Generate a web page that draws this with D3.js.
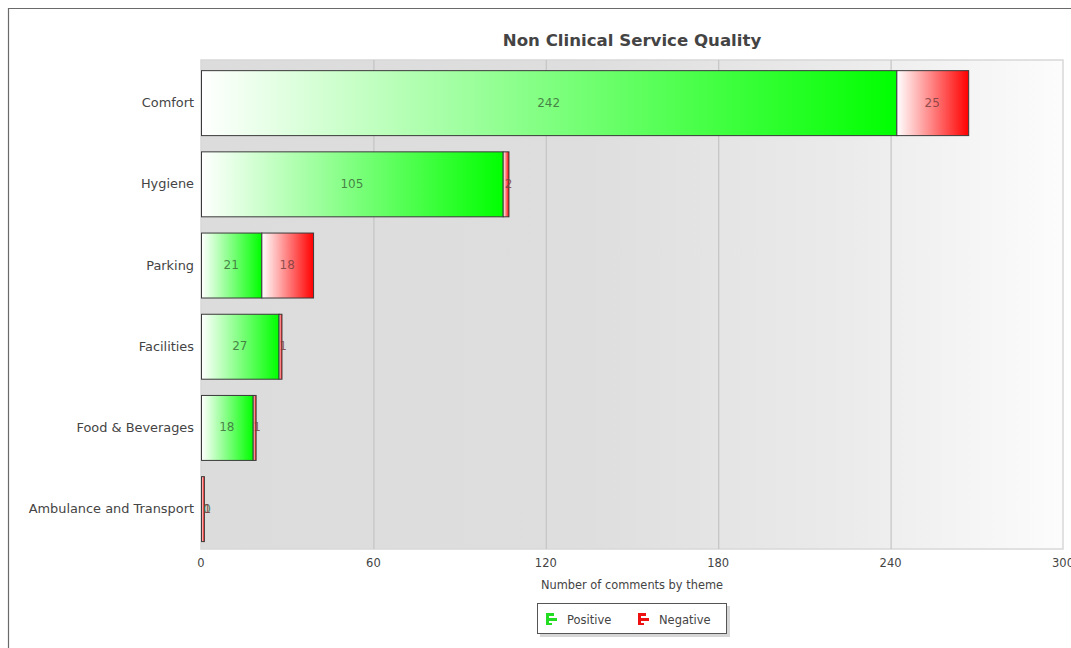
<!DOCTYPE html>
<html><head><meta charset="utf-8">
<script src="https://cdn.jsdelivr.net/npm/d3@7"></script>
<style>body{margin:0;background:#fff}svg{display:block;font-family:"DejaVu Sans",Verdana,sans-serif}</style>
</head><body><svg id="c" width="1071" height="648"></svg>
<script>
const categories = ["Comfort","Hygiene","Parking","Facilities","Food & Beverages","Ambulance and Transport"];
const positive = [242,105,21,27,18,0];
const negative = [25,2,18,1,1,1];
const xTicks = [0,60,120,180,240,300];
const seriesNames = ["Positive","Negative"];
const title = "Non Clinical Service Quality";
const xTitle = "Number of comments by theme";

const svg = d3.select("#c");
const defs = svg.append("defs");
const m = {l:201, r:1063, t:60, b:549};
const x = d3.scaleLinear().domain([0,300]).range([m.l,m.r]);
const y = d3.scaleBand().domain(categories).range([m.t, m.t + 81.2*(6 - 0.2 + 0.25)]).paddingInner(0.2).paddingOuter(0.125);

// outer frame
svg.append("path").attr("d","M8.5,648 L8.5,8.5 L1071,8.5").attr("fill","none").attr("stroke","#6a6a6a").attr("stroke-width",1.2);

// plot background gradient
const bg = defs.append("linearGradient").attr("id","bg").attr("x1","0").attr("x2","1").attr("y1","0").attr("y2","0");
bg.append("stop").attr("offset","0").attr("stop-color","#dcdcdc");
bg.append("stop").attr("offset","0.45").attr("stop-color","#dedede");
bg.append("stop").attr("offset","0.75").attr("stop-color","#ebebeb");
bg.append("stop").attr("offset","1").attr("stop-color","#fcfcfc");
svg.append("rect").attr("x",m.l).attr("y",m.t).attr("width",m.r-m.l).attr("height",m.b-m.t)
  .attr("fill","url(#bg)").attr("stroke","#d8d8d8").attr("stroke-width",1.5);

// grid
svg.append("g").selectAll("line").data(xTicks.slice(1,-1)).join("line")
  .attr("x1",d=>x(d)+0.5).attr("x2",d=>x(d)+0.5).attr("y1",m.t).attr("y2",m.b)
  .attr("stroke","#c4c4c4").attr("stroke-width",1.2);

// gradients
function grad(id,color){
  const g = defs.append("linearGradient").attr("id",id).attr("x1","0").attr("x2","1").attr("y1","0").attr("y2","0");
  g.append("stop").attr("offset","0").attr("stop-color","#ffffff");
  g.append("stop").attr("offset","1").attr("stop-color",color);
}
grad("gp","#00ff00"); grad("gn","#ff0000");

const rows = categories.map((c,i)=>({c, p:positive[i], n:negative[i]}));
const gb = svg.append("g");
rows.forEach(r=>{
  const yy = y(r.c), h = y.bandwidth();
  if(r.p>0){
    gb.append("rect").attr("x",x(0)+0.5).attr("y",yy+0.5).attr("width",x(r.p)-x(0)).attr("height",h)
      .attr("fill","url(#gp)").attr("stroke","#3a3a3a").attr("stroke-width",1);
  }
  gb.append("rect").attr("x",x(r.p)+0.5).attr("y",yy+0.5).attr("width",x(r.p+r.n)-x(r.p)).attr("height",h)
    .attr("fill","url(#gn)").attr("stroke","#3a3a3a").attr("stroke-width",1);
});
// labels
const gl = svg.append("g").attr("font-size",12).attr("text-anchor","middle");
rows.forEach(r=>{
  const cy = y(r.c)+y.bandwidth()/2+4;
  gl.append("text").attr("x",(x(0)+x(r.p))/2 + (r.p===0?6:0)).attr("y",cy).attr("fill","#3c6b3c").attr("fill-opacity",0.85).text(r.p);
  gl.append("text").attr("x",(x(r.p)+x(r.p+r.n))/2 + (r.n<3?3:0) + (r.p===0?2:0)).attr("y",cy).attr("fill","#7a4040").attr("fill-opacity",0.85).text(r.n);
});

// category labels
svg.append("g").attr("font-size",12.9).attr("fill","#444").attr("text-anchor","end")
  .selectAll("text").data(categories).join("text")
  .attr("x",194).attr("y",d=>y(d)+y.bandwidth()/2+4.5).text(d=>d);

// x tick labels
svg.append("g").attr("font-size",11.5).attr("fill","#444").attr("text-anchor","middle")
  .selectAll("text").data(xTicks).join("text")
  .attr("x",d=>x(d)).attr("y",567).text(d=>d);

// title
svg.append("text").attr("x",(m.l+m.r)/2).attr("y",46).attr("text-anchor","middle")
  .attr("font-size",16.6).attr("font-weight","bold").attr("fill","#444").text(title);
svg.append("text").attr("x",(m.l+m.r)/2).attr("y",589).attr("text-anchor","middle")
  .attr("font-size",11.4).attr("fill","#444").text(xTitle);

// legend
const lg = svg.append("g");
lg.append("rect").attr("x",540).attr("y",606).attr("width",190).attr("height",31).attr("fill","#bbb").attr("opacity",0.6);
lg.append("rect").attr("x",537.5).attr("y",603.5).attr("width",189).attr("height",30).attr("fill","#fff").attr("stroke","#555").attr("stroke-width",1);
const icons = [{x:546,c:"#22dd22"},{x:638,c:"#ee1111"}];
icons.forEach((ic,i)=>{
  const g = lg.append("g").attr("fill",ic.c);
  g.append("rect").attr("x",ic.x).attr("y",613).attr("width",3).attr("height",12);
  g.append("rect").attr("x",ic.x+3).attr("y",613).attr("width",5).attr("height",3);
  g.append("rect").attr("x",ic.x+3).attr("y",618).attr("width",8).attr("height",3);
  g.append("rect").attr("x",ic.x+3).attr("y",623).attr("width",3).attr("height",2);
  lg.append("text").attr("x",ic.x+21).attr("y",624).attr("font-size",11.5).attr("fill","#444").text(seriesNames[i]);
});
</script></body></html>
